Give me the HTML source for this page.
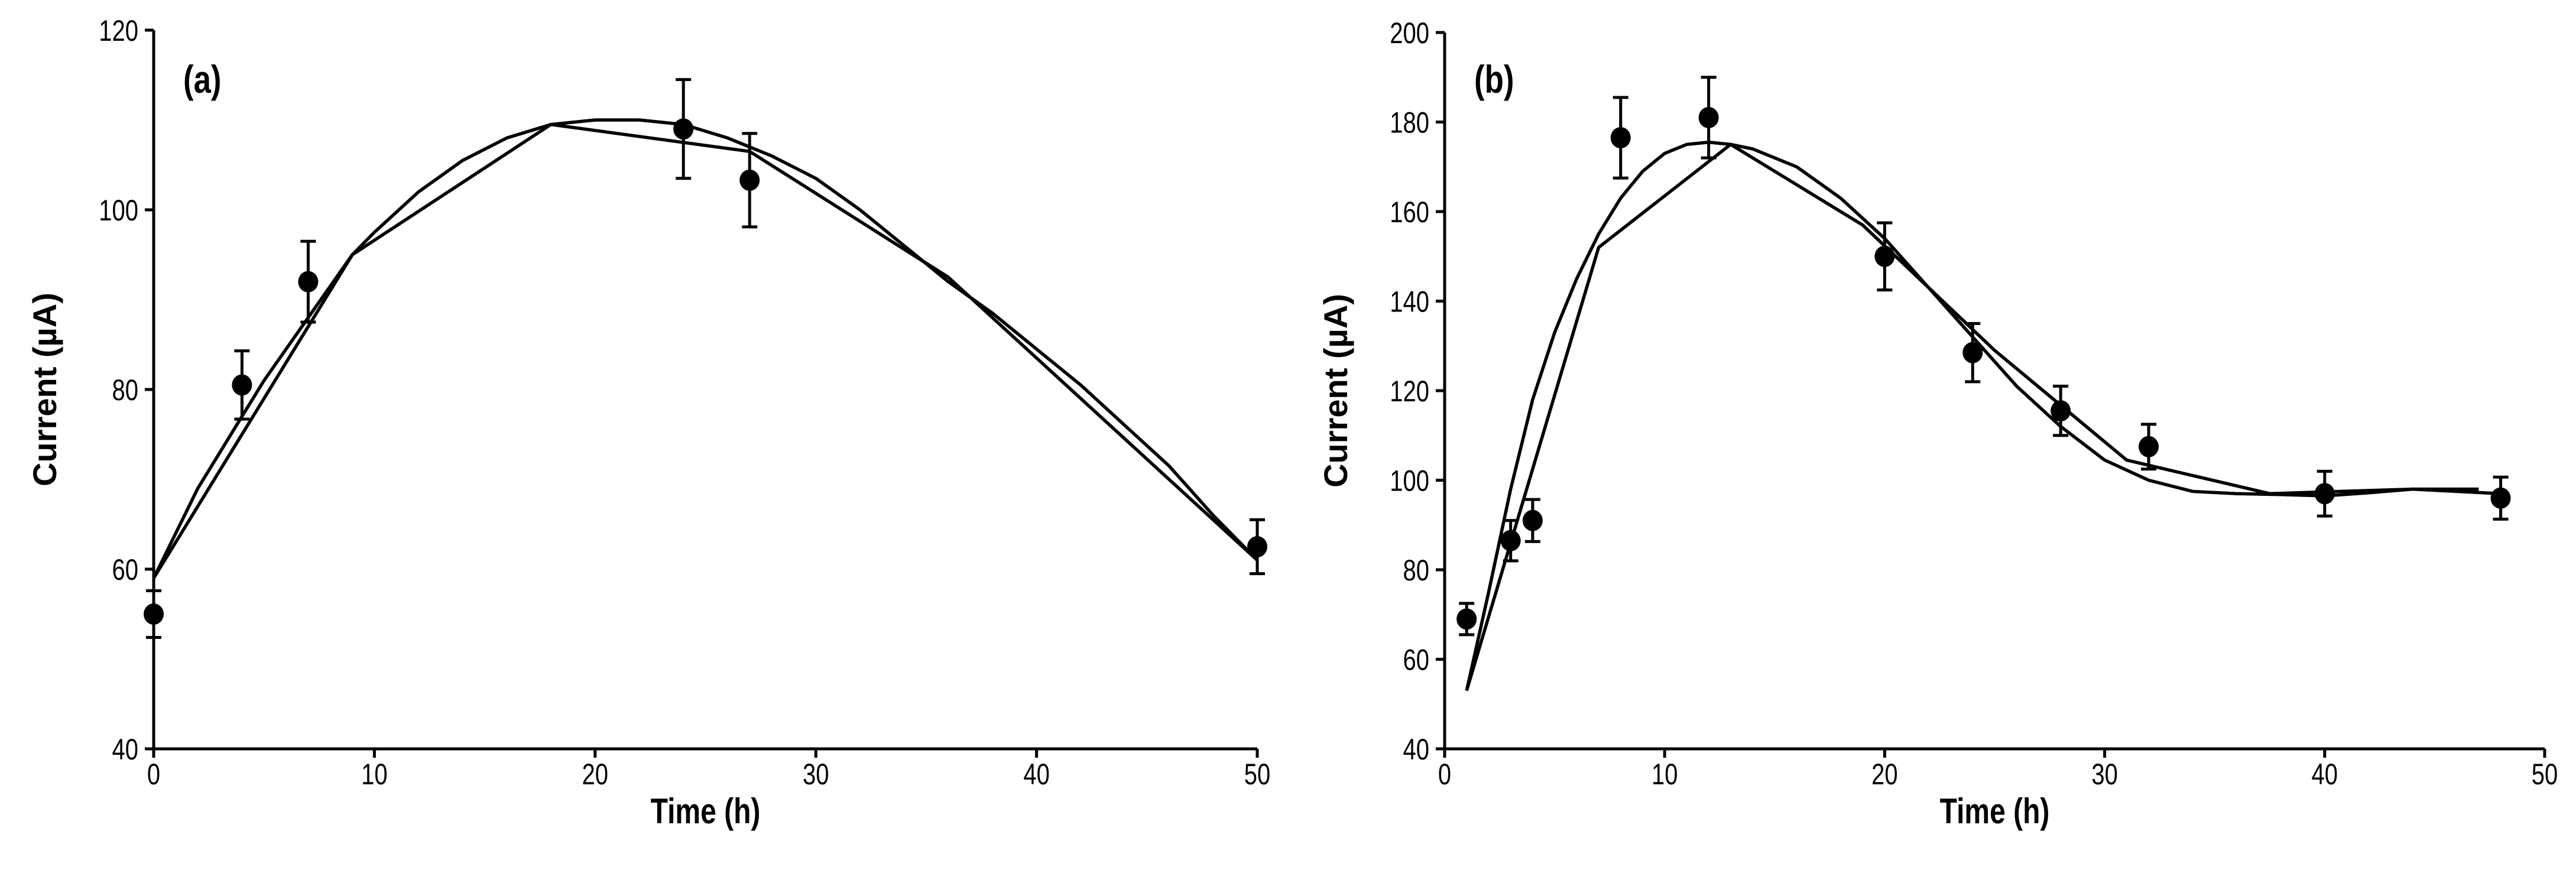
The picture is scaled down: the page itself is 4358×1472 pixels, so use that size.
<!DOCTYPE html>
<html><head><meta charset="utf-8"><style>
html,body{margin:0;padding:0;background:#fff}
svg{display:block}
text{font-family:"Liberation Sans",Arial,sans-serif;fill:#000}
</style></head><body>
<svg id="chart" width="4358" height="1472" viewBox="0 0 4358 1472" xmlns="http://www.w3.org/2000/svg"></svg>
<script>
// Panel (a) data
const aTimes = [0, 4, 7, 24, 27, 50];
const aValues = [55, 80.5, 92, 109, 103.3, 62.5];
const aErrors = [2.6, 3.8, 4.5, 5.5, 5.2, 3.0];
const aSmoothT = [0,1,2,3,4,5,6,7,8,9,10,12,14,16,18,20,22,24,26,28,30,32,34,36,38,40,42,44,46,48,50];
const aSmoothV = [59,64,69,73,77,81,84.5,88,91.5,95,97.5,102,105.5,108,109.5,110,110,109.5,108,106,103.5,100,96,92,88.5,84.5,80.5,76,71.5,66,61];
const aLinearT = [0, 9, 18, 27, 36, 50];
const aLinearV = [59, 95, 109.5, 106.5, 92.5, 61];
const aYTicks = [40, 60, 80, 100, 120];
const aXTicks = [0, 10, 20, 30, 40, 50];
// Panel (b) data
const bTimes = [1, 3, 4, 8, 12, 20, 24, 28, 32, 40, 48];
const bValues = [69, 86.5, 91, 176.5, 181, 150, 128.5, 115.5, 107.5, 97, 96];
const bErrors = [3.5, 4.5, 4.7, 9, 9, 7.5, 6.5, 5.5, 5, 5, 4.7];
const bSmoothT = [1,2,3,4,5,6,7,8,9,10,11,12,13,14,16,18,20,22,24,26,28,30,32,34,36,38,40,42,44,46,47];
const bSmoothV = [53,75,98,118,133,145,155,163,169,173,175,175.5,175,174,170,163,154,143,132,121,112,104.5,100,97.5,97,96.8,96.5,97.2,98,98,98];
const bLinearT = [1, 7, 13, 19, 25, 31, 37.5, 44, 48];
const bLinearV = [53, 152, 175, 157, 129, 104.5, 97, 98, 97];
const bYTicks = [40, 60, 80, 100, 120, 140, 160, 180, 200];
const bXTicks = [0, 10, 20, 30, 40, 50];

const NS = "http://www.w3.org/2000/svg";
const svg = document.getElementById('chart');
function mk(tag, attrs, parent){
  const e = document.createElementNS(NS, tag);
  for (const k in attrs) e.setAttribute(k, attrs[k]);
  (parent||svg).appendChild(e);
  return e;
}
function txt(x, y, s, size, weight, anchor, parent){
  const t = mk('text', {transform:`translate(${x},${y}) scale(0.8,1)`, 'font-size':size, 'font-weight':weight, 'text-anchor':anchor}, parent);
  t.textContent = s;
  return t;
}

function panel(id, x0, x1, y0, y1, ymin, ymax, yTicks, xTicks, times, vals, errs, sT, sV, lT, lV, label){
  const g = mk('g', {});
  
  
  const X = t => x0 + (t - 0) / 50 * (x1 - x0);
  const Y = v => y1 - (v - ymin) / (ymax - ymin) * (y1 - y0);
  const ya = mk('line', {x1:x0, y1:y0, x2:x0, y2:y1, stroke:'#000', 'stroke-width':5}, g);
  
  
  const xa = mk('line', {x1:x0, y1:y1, x2:x1, y2:y1, stroke:'#000', 'stroke-width':5}, g);
  
  
  yTicks.forEach(v => {
    mk('line', {x1:x0-15, y1:Y(v), x2:x0, y2:Y(v), stroke:'#000', 'stroke-width':5}, g);
    const t = txt(x0-26, Y(v)+18, String(v), 50, 'normal', 'end', g);
    
    
  });
  xTicks.forEach(v => {
    mk('line', {x1:X(v), y1:y1, x2:X(v), y2:y1+15, stroke:'#000', 'stroke-width':5}, g);
    const t = txt(X(v), y1+60, String(v), 50, 'normal', 'middle', g);
    
    
  });
  const xt = txt((x0+x1)/2, 1393, 'Time (h)', 60, 'bold', 'middle', g);
  
  
  const ytl = mk('text', {transform:`translate(${x0-165},${(y0+y1)/2}) rotate(-90)`, 'font-size':56, 'font-weight':'bold', 'text-anchor':'middle'}, g);
  ytl.textContent = 'Current (µA)';
  
  
  const pl = txt(x0+50, 157, label, 66, 'bold', 'start', g);
  
  
  const sp = mk('polyline', {points: sT.map((t,i)=>X(t)+','+Y(sV[i])).join(' '), fill:'none', stroke:'#000', 'stroke-width':5.5, 'stroke-linejoin':'round'}, g);
  
  
  const lp = mk('polyline', {points: lT.map((t,i)=>X(t)+','+Y(lV[i])).join(' '), fill:'none', stroke:'#000', 'stroke-width':5.5, 'stroke-linejoin':'round'}, g);
  
  
  times.forEach((t,i) => {
    const cx = X(t), top = Y(vals[i]+errs[i]), bot = Y(vals[i]-errs[i]);
    const eb = mk('path', {d:`M${cx},${top}V${bot}M${cx-13},${top}H${cx+13}M${cx-13},${bot}H${cx+13}`, stroke:'#000', 'stroke-width':5, fill:'none'}, g);
    
    
    const c = mk('ellipse', {cx:cx, cy:Y(vals[i]), rx:17, ry:18, fill:'#000'}, g);
    
    
  });
}
panel('a', 260, 2127, 51, 1267, 40, 120, aYTicks, aXTicks, aTimes, aValues, aErrors, aSmoothT, aSmoothV, aLinearT, aLinearV, '(a)');
panel('b', 2444, 4305, 55, 1267, 40, 200, bYTicks, bXTicks, bTimes, bValues, bErrors, bSmoothT, bSmoothV, bLinearT, bLinearV, '(b)');
</script>
</body></html>
